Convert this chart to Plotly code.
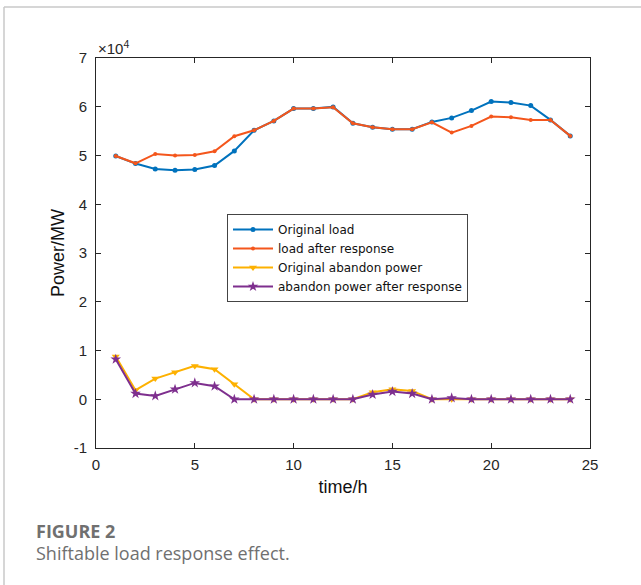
import plotly.graph_objects as go

hours = list(range(1, 25))
original_load = [49900, 48340, 47250, 46970, 47110, 47930, 50940, 55180, 57090, 59620,
                 59620, 59970, 56620, 55790, 55380, 55380, 56890, 57710, 59210, 61060,
                 60850, 60240, 57300, 54020]
load_after = [49900, 48400, 50320, 49980, 50120, 50870, 53950, 55180, 57090, 59620,
              59620, 59900, 56620, 55790, 55380, 55380, 56820, 54700, 56070, 57980,
              57850, 57300, 57300, 54020]
orig_abandon = [8750, 1850, 4240, 5540, 6840, 6150, 3080, 0, 0, 0,
                0, 0, 0, 1440, 2050, 1710, 0, 0, 0, 0,
                0, 0, 0, 0]
abandon_after = [8200, 1160, 680, 2050, 3350, 2670, 0, 0, 0, 0,
                 0, 0, 0, 960, 1570, 1160, 0, 270, 0, 0,
                 0, 0, 0, 0]

SCALE = 1e4
x_ticks = [0, 5, 10, 15, 20, 25]
y_ticks = [-1, 0, 1, 2, 3, 4, 5, 6, 7]

series = [
    ("Original load", original_load, "#0072BD", "circle", 5),
    ("load after response", load_after, "#F4561C", "circle", 4),
    ("Original abandon power", orig_abandon, "#FDB100", "triangle-down", 7),
    ("abandon power after response", abandon_after, "#7E2F8E", "star", 8),
]

fig = go.Figure()
for name, vals, color, sym, sz in series:
    fig.add_trace(go.Scatter(
        x=hours, y=[v / SCALE for v in vals], name=name, mode="lines+markers",
        line=dict(color=color, width=2),
        marker=dict(symbol=sym, size=sz, color=color, line=dict(width=0)),
    ))

axis_common = dict(
    showline=True, linecolor="#262626", linewidth=1, mirror="ticks",
    ticks="inside", ticklen=5, tickcolor="#262626", tickwidth=1,
    showgrid=False, zeroline=False,
    tickfont=dict(family="Liberation Sans, Arial", size=15, color="#262626"),
)

fig.update_layout(
    width=641, height=585,
    margin=dict(l=96, r=51, t=58, b=137),
    paper_bgcolor="white", plot_bgcolor="white",
    showlegend=True,
    legend=dict(
        x=(227 - 96) / 494, y=(448 - 214) / 390, xanchor="left", yanchor="top",
        bordercolor="#444444", borderwidth=1, bgcolor="white",
        font=dict(family="DejaVu Sans", size=12, color="#111111"),
        tracegroupgap=0, itemwidth=40,
    ),
    xaxis=dict(range=[0, 25], tickvals=x_ticks, ticktext=[str(t) for t in x_ticks],
               title=dict(text="time/h", standoff=8,
                          font=dict(family="Liberation Sans, Arial", size=18, color="#111111")),
               ticklabelstandoff=3,
               **axis_common),
    yaxis=dict(range=[-1, 7], tickvals=y_ticks, ticktext=[str(t) for t in y_ticks],
               title=dict(text="Power/MW", standoff=4,
                          font=dict(family="Liberation Sans, Arial", size=18, color="#111111")),
               ticklabelstandoff=5,
               **axis_common),
    annotations=[
        dict(text="×10<sup>4</sup>", x=0, y=1, xref="paper", yref="paper",
             xanchor="left", yanchor="bottom", showarrow=False, yshift=-1,
             font=dict(family="Liberation Sans, Arial", size=15, color="#262626")),
        dict(text="<b>FIGURE 2</b>", x=(34 - 96) / 494, y=(448 - 545) / 390,
             xref="paper", yref="paper", xanchor="left", yanchor="bottom",
             showarrow=False, font=dict(family="Open Sans", size=18, color="#707070")),
        dict(text="Shiftable load response effect.", x=(34 - 96) / 494, y=(448 - 567) / 390,
             xref="paper", yref="paper", xanchor="left", yanchor="bottom",
             showarrow=False, font=dict(family="Open Sans", size=18, color="#707070")),
    ],
    shapes=[
        dict(type="line", xref="paper", yref="paper",
             x0=(4 - 96) / 494, x1=(645 - 96) / 494, y0=(448 - 7) / 390, y1=(448 - 7) / 390,
             line=dict(color="#c8c8c8", width=1.5)),
        dict(type="line", xref="paper", yref="paper",
             x0=(4 - 96) / 494, x1=(4 - 96) / 494, y0=(448 - 7) / 390, y1=(448 - 590) / 390,
             line=dict(color="#c8c8c8", width=1.5)),
    ],
)

fig.write_html("out.html", config={"displayModeBar": False},
               post_script="document.body.style.margin='0px';")
